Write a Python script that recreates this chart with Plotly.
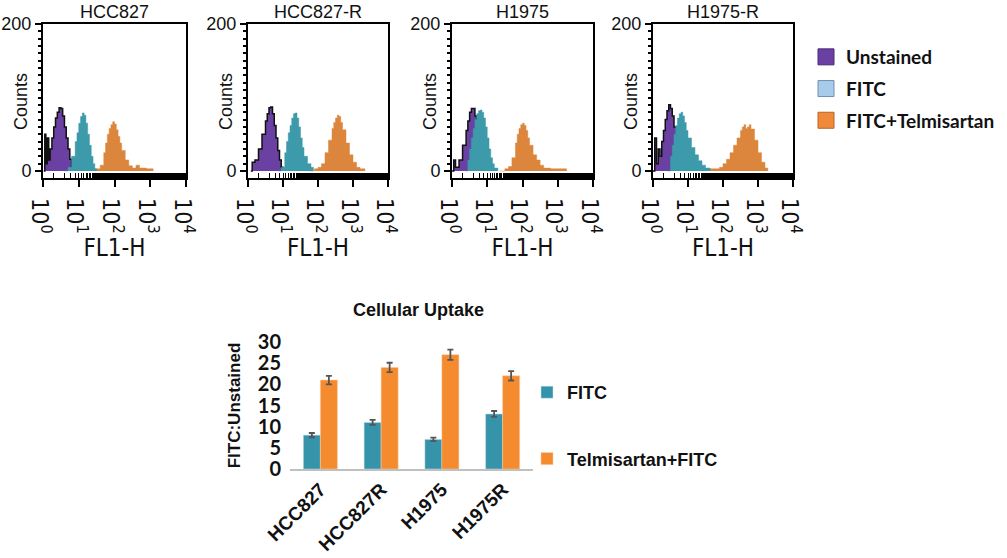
import plotly.graph_objects as go

W, H = 1007, 558


def px(x):
    return x / W


def py(y):
    return 1 - y / H


# ---------------- data ----------------
PANELS = ["HCC827", "HCC827-R", "H1975", "H1975-R"]
SERIES = ["Unstained", "FITC", "FITC+Telmisartan"]
FLOW_X_TICKS = [1, 10, 100, 1000, 10000]
FLOW_X_TICKTEXT = ["10<sup>0</sup>", "10<sup>1</sup>", "10<sup>2</sup>", "10<sup>3</sup>", "10<sup>4</sup>"]
COUNT_TICKS = [0, 200]

# histogram bins: log10(FL1-H) positions and counts
hcc827_unst_x = [0.02, 0.05, 0.08, 0.12, 0.16, 0.2, 0.25, 0.3, 0.35, 0.4, 0.45, 0.5, 0.55, 0.6, 0.65, 0.7, 0.75, 0.8, 0.85]
hcc827_unst_y = [0, 50, 10, 45, 15, 30, 45, 60, 72, 80, 86, 85, 75, 60, 45, 30, 16, 6, 0]
hcc827_fitc_x = [0.6, 0.7, 0.8, 0.9, 0.95, 1.0, 1.05, 1.1, 1.15, 1.2, 1.25, 1.3, 1.35, 1.4, 1.45, 1.5]
hcc827_fitc_y = [0, 5, 20, 40, 52, 65, 74, 79, 76, 65, 50, 35, 20, 10, 3, 0]
hcc827_tel_x = [1.1, 1.3, 1.5, 1.6, 1.7, 1.75, 1.8, 1.85, 1.9, 1.95, 2.0, 2.05, 2.1, 2.15, 2.2, 2.3, 2.4, 2.5, 2.6, 2.7, 2.9, 3.08]
hcc827_tel_y = [3, 3, 3, 8, 25, 38, 50, 58, 63, 67, 64, 56, 47, 38, 28, 15, 7, 4, 8, 4, 3, 0]

hcc827r_unst_x = [0.08, 0.12, 0.2, 0.3, 0.4, 0.5, 0.55, 0.6, 0.65, 0.7, 0.75, 0.8, 0.85, 0.9, 0.95, 1.0]
hcc827r_unst_y = [0, 12, 15, 30, 50, 68, 78, 86, 87, 78, 62, 45, 28, 15, 5, 0]
hcc827r_fitc_x = [0.85, 0.95, 1.05, 1.1, 1.15, 1.2, 1.25, 1.3, 1.35, 1.4, 1.45, 1.5, 1.55, 1.6, 1.7, 1.8, 1.87]
hcc827r_fitc_y = [0, 5, 25, 40, 52, 62, 72, 78, 79, 72, 60, 45, 32, 20, 10, 5, 0]
hcc827r_tel_x = [1.75, 1.9, 2.0, 2.1, 2.2, 2.3, 2.4, 2.45, 2.5, 2.55, 2.6, 2.65, 2.7, 2.8, 2.9, 3.0, 3.1, 3.2, 3.34]
hcc827r_tel_y = [0, 3, 5, 10, 25, 42, 58, 66, 72, 76, 74, 66, 56, 38, 22, 12, 5, 3, 0]

h1975_unst_x = [0.0, 0.05, 0.1, 0.2, 0.3, 0.4, 0.45, 0.5, 0.55, 0.6, 0.65, 0.7, 0.8, 0.9]
h1975_unst_y = [0, 15, 5, 15, 35, 55, 68, 80, 85, 85, 75, 55, 20, 0]
h1975_fitc_x = [0.4, 0.45, 0.5, 0.55, 0.6, 0.65, 0.7, 0.75, 0.8, 0.85, 0.9, 0.95, 1.0, 1.05, 1.1, 1.15, 1.2, 1.3]
h1975_fitc_y = [0, 15, 30, 45, 58, 70, 78, 82, 83, 80, 72, 60, 45, 30, 18, 10, 4, 0]
h1975_tel_x = [1.35, 1.5, 1.6, 1.7, 1.8, 1.85, 1.9, 1.95, 2.0, 2.05, 2.1, 2.15, 2.2, 2.3, 2.4, 2.5, 2.6, 2.8, 3.0, 3.25]
h1975_tel_y = [0, 3, 6, 18, 38, 50, 58, 63, 65, 62, 55, 45, 35, 22, 15, 8, 4, 3, 3, 0]

h1975r_unst_x = [0.0, 0.05, 0.1, 0.15, 0.2, 0.25, 0.3, 0.35, 0.4, 0.45, 0.5, 0.55, 0.6, 0.7, 0.8]
h1975r_unst_y = [0, 45, 10, 30, 20, 40, 55, 70, 82, 90, 85, 75, 60, 30, 0]
h1975r_fitc_x = [0.42, 0.5, 0.55, 0.6, 0.65, 0.7, 0.75, 0.8, 0.85, 0.9, 0.95, 1.0, 1.1, 1.2, 1.3, 1.4, 1.5, 1.63]
h1975r_fitc_y = [0, 20, 35, 50, 62, 72, 78, 80, 75, 66, 55, 45, 32, 22, 14, 8, 4, 0]
h1975r_tel_x = [1.5, 1.7, 1.9, 2.0, 2.1, 2.2, 2.3, 2.4, 2.5, 2.55, 2.6, 2.65, 2.7, 2.75, 2.8, 2.9, 3.0, 3.1, 3.2, 3.28]
h1975r_tel_y = [3, 3, 5, 10, 16, 25, 35, 45, 55, 60, 63, 58, 60, 63, 57, 42, 25, 12, 4, 0]

FLOW = [
    [(hcc827_unst_x, hcc827_unst_y), (hcc827_fitc_x, hcc827_fitc_y), (hcc827_tel_x, hcc827_tel_y)],
    [(hcc827r_unst_x, hcc827r_unst_y), (hcc827r_fitc_x, hcc827r_fitc_y), (hcc827r_tel_x, hcc827r_tel_y)],
    [(h1975_unst_x, h1975_unst_y), (h1975_fitc_x, h1975_fitc_y), (h1975_tel_x, h1975_tel_y)],
    [(h1975r_unst_x, h1975r_unst_y), (h1975r_fitc_x, h1975r_fitc_y), (h1975r_tel_x, h1975r_tel_y)],
]

# bar chart
CELL_LINES = ["HCC827", "HCC827R", "H1975", "H1975R"]
BAR_SERIES = ["FITC", "Telmisartan+FITC"]
FITC_RATIO = [8, 11, 7, 13]
FITC_ERR = [0.5, 0.6, 0.4, 0.7]
TEL_RATIO = [21, 24, 27, 22]
TEL_ERR = [1.0, 1.1, 1.2, 1.1]

# ---------------- styles ----------------
HIST_FILL = {"Unstained": "#6b40a3", "FITC": "#3c9aab", "FITC+Telmisartan": "#dc863d"}
HIST_LINE = {"Unstained": "#111111", "FITC": "#3c9aab", "FITC+Telmisartan": "#dc863d"}
LEG_FILL = {"Unstained": "#6b40a3", "FITC": "#a9cbea", "FITC+Telmisartan": "#f08a3a"}
LEG_LINE = {"Unstained": "#4a2a78", "FITC": "#6f8fb0", "FITC+Telmisartan": "#b5652a"}
BAR_COLORS = {"FITC": "#3593aa", "Telmisartan+FITC": "#f58b2f"}

PANEL_L = [43, 248, 452, 653]
PANEL_R = [186, 388, 593, 793]
PANEL_TOP, PANEL_BOT = 24, 178
NARROW = ("Liberation Sans Narrow, Arial Narrow, Noto Sans ExtraCondensed, "
          "Noto Sans Condensed, DejaVu Sans Condensed, sans-serif")
ARIAL = "Liberation Sans, Arial, sans-serif"
CALIBRI = "Lato, Carlito, Open Sans, sans-serif"

fig = go.Figure()

draw_order = [2, 0, 1]
for i, panel in enumerate(PANELS):
    ax = i + 1
    for s in draw_order:
        name = SERIES[s]
        xs, ys = FLOW[i][s]
        fig.add_trace(go.Scatter(
            x=[10 ** v for v in xs], y=ys, mode="lines", line_shape="hv",
            fill="tozeroy", fillcolor=HIST_FILL[name],
            line=dict(color=HIST_LINE[name], width=1.5 if s == 0 else 0.5),
            name=name, showlegend=False,
            xaxis=f"x{ax}", yaxis=f"y{ax}", hoverinfo="skip",
        ))

# legend entries for the flow panels
for name in SERIES:
    fig.add_trace(go.Scatter(
        x=[None], y=[None], mode="markers", name=name, legendgroup=name,
        marker=dict(symbol="square", size=16, color=LEG_FILL[name],
                    line=dict(color=LEG_LINE[name], width=1)),
        xaxis="x1", yaxis="y1", legend="legend",
    ))

fig.add_trace(go.Bar(
    x=CELL_LINES, y=FITC_RATIO, name=BAR_SERIES[0], legendgroup="b1",
    marker=dict(color=BAR_COLORS["FITC"], line=dict(color="#cfe3ea", width=0.5)),
    error_y=dict(type="data", array=FITC_ERR, color="#555555", thickness=1.8, width=3),
    xaxis="x5", yaxis="y5", legend="legend2",
))
fig.add_trace(go.Bar(
    x=CELL_LINES, y=TEL_RATIO, name=BAR_SERIES[1], legendgroup="b2",
    marker=dict(color=BAR_COLORS["Telmisartan+FITC"], line=dict(color="#f8c9a0", width=0.5)),
    error_y=dict(type="data", array=TEL_ERR, color="#555555", thickness=1.8, width=3),
    xaxis="x5", yaxis="y5", legend="legend2",
))

layout = dict(
    width=W, height=H, margin=dict(l=0, r=0, t=0, b=0, autoexpand=False),
    paper_bgcolor="white", plot_bgcolor="white",
    barmode="group", bargap=0.44, bargroupgap=0,
    showlegend=True,
    legend=dict(x=px(806), y=py(38), xanchor="left", yanchor="top",
                font=dict(family=CALIBRI, size=19, color="#111", weight="bold"),
                bgcolor="rgba(0,0,0,0)", tracegroupgap=4, itemsizing="trace"),
    legend2=dict(x=px(527), y=py(374), xanchor="left", yanchor="top",
                 font=dict(family=ARIAL, size=18, color="#111", weight="bold"),
                 bgcolor="rgba(0,0,0,0)", tracegroupgap=40),
    annotations=[],
)

y0_top = py(PANEL_TOP)
y0_bot = py(PANEL_BOT)
for i, panel in enumerate(PANELS):
    ax = i + 1
    layout[f"xaxis{ax}"] = dict(
        domain=[px(PANEL_L[i]), px(PANEL_R[i])], anchor=f"y{ax}", automargin=False,
        type="log", range=[0, 4], tickvals=FLOW_X_TICKS, ticktext=FLOW_X_TICKTEXT,
        ticks="outside", ticklen=7, tickwidth=2, tickcolor="black",
        showline=True, linewidth=2, linecolor="black", mirror=True,
        showgrid=False, zeroline=False, ticklabelstandoff=-5,
        minor=dict(ticks="inside", ticklen=5, tickwidth=1.2, tickcolor="black", showgrid=False),
        tickfont=dict(family=NARROW, size=23, color="#111"),
        title=dict(text="FL1-H", font=dict(family=NARROW, size=24, color="#111"), standoff=0),
    )
    layout[f"yaxis{ax}"] = dict(
        domain=[y0_bot, y0_top], anchor=f"x{ax}", automargin=False,
        range=[-9.5, 200], tickvals=COUNT_TICKS,
        ticks="outside", ticklen=6, tickwidth=2, tickcolor="black",
        showline=True, linewidth=2, linecolor="black", mirror=True,
        showgrid=False, zeroline=False,
        minor=dict(ticks="outside", dtick=10, ticklen=3, tickwidth=1.5, tickcolor="black", showgrid=False),
        tickfont=dict(family=ARIAL, size=18, color="#111"),
    )
    cx = (PANEL_L[i] + PANEL_R[i]) / 2
    layout["annotations"].append(dict(
        text=panel, x=px(cx), y=py(12), xref="paper", yref="paper",
        showarrow=False, font=dict(family=ARIAL, size=18, color="#111"),
        xanchor="center", yanchor="middle",
    ))
    layout["annotations"].append(dict(
        text="Counts", x=px(PANEL_L[i] - 22), y=py(102), xref="paper", yref="paper",
        showarrow=False, textangle=-90, font=dict(family=ARIAL, size=18, color="#111"),
        xanchor="center", yanchor="middle",
    ))

layout["xaxis5"] = dict(
    domain=[px(290), px(533)], anchor="y5", type="category", automargin=False,
    tickangle=-45, ticks="", showline=True, linewidth=2, linecolor="#c0c0c0",
    showgrid=False, zeroline=False,
    tickfont=dict(family=ARIAL, size=19, color="#111", weight="bold"),
)
layout["yaxis5"] = dict(
    domain=[py(469), py(342)], anchor="x5", range=[0, 30], dtick=5, automargin=False,
    showline=False, showgrid=False, zeroline=False, ticks="", ticklabelstandoff=8,
    tickfont=dict(family=CALIBRI, size=20, color="#111", weight="bold"),
    title=dict(text="FITC:Unstained", font=dict(family=ARIAL, size=17, color="#111", weight="bold"), standoff=12),
)
layout["annotations"].append(dict(
    text="Cellular Uptake", x=px(418), y=py(310), xref="paper", yref="paper",
    showarrow=False, font=dict(family=ARIAL, size=18, color="#111", weight="bold"),
    xanchor="center", yanchor="middle",
))

fig.update_layout(**layout)
# the page's default body margin would shift the figure by 8px; remove it
fig.write_html("out.html", config={"displayModeBar": False},
               post_script="document.body.style.margin='0';")
